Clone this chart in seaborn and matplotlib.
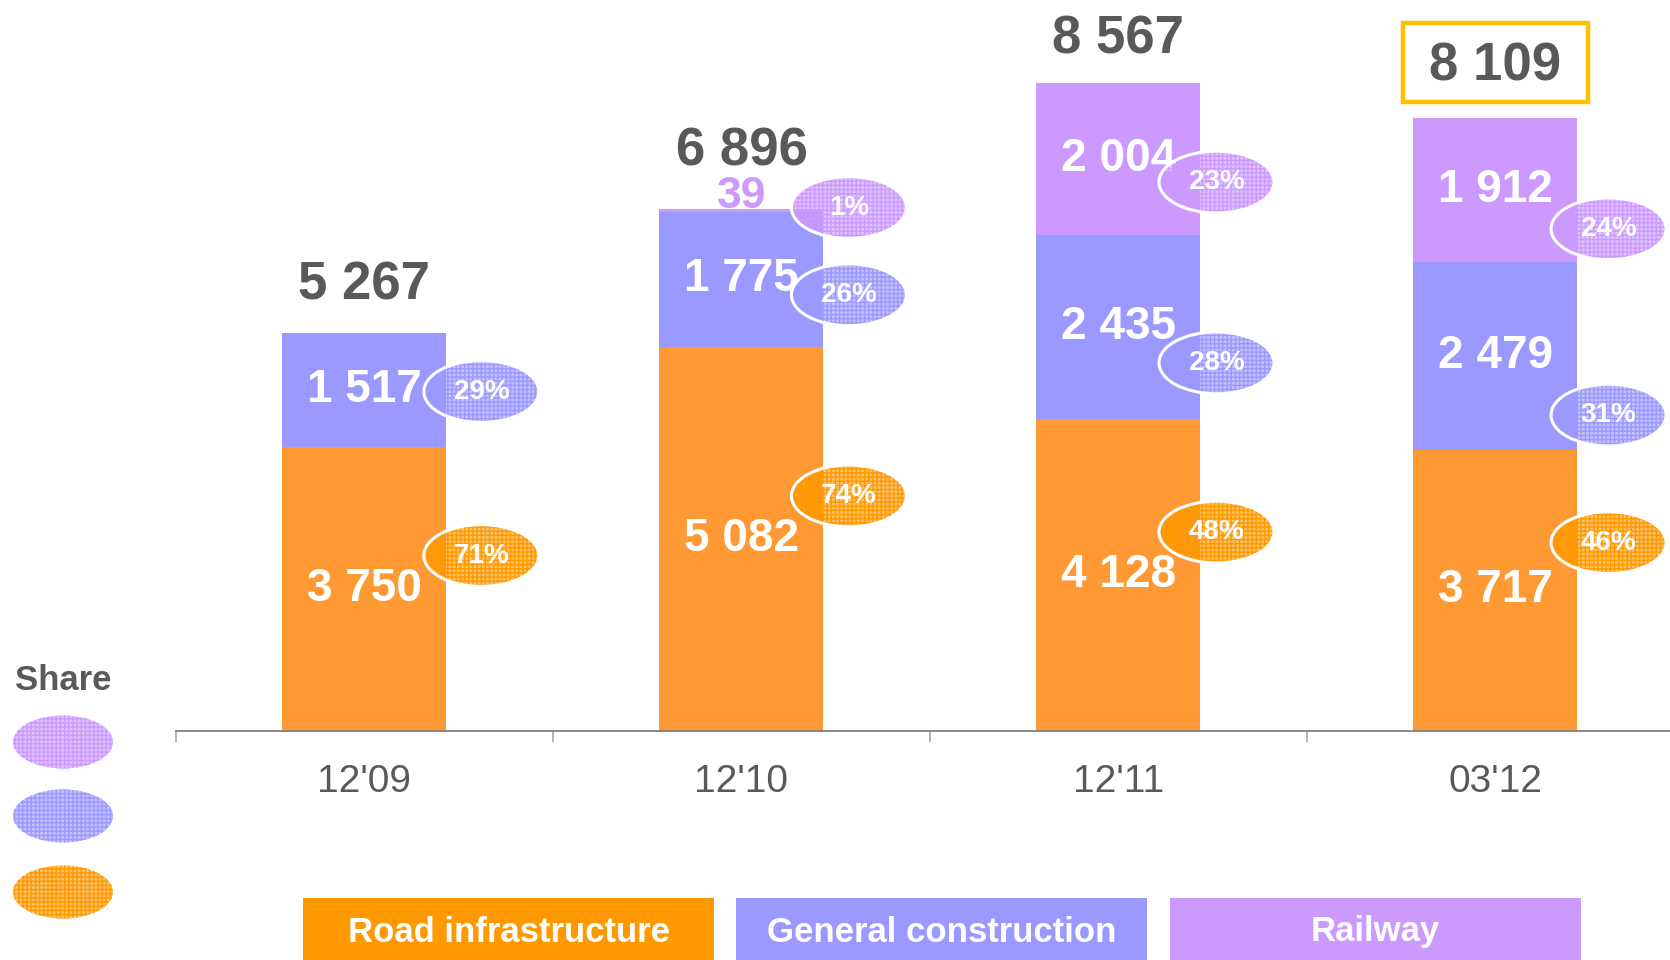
import matplotlib
matplotlib.use("Agg")
import matplotlib.pyplot as plt
from matplotlib.patches import Ellipse, Rectangle
import seaborn as sns
import pandas as pd

# data
periods = ["12'09", "12'10", "12'11", "03'12"]
road = [3750, 5082, 4128, 3717]
general = [1517, 1775, 2435, 2479]
railway = [0, 39, 2004, 1912]
totals = [5267, 6896, 8567, 8109]
share_road = [71, 74, 48, 46]
share_general = [29, 26, 28, 31]
share_railway = [None, 1, 23, 24]
series_names = ["Road infrastructure", "General construction", "Railway"]

ORANGE = "#FF9933"
BLUE = "#9999FF"
PURPLE = "#CC99FF"
ORANGE_BOX = "#FF9900"
GREY = "#595959"

# layout tweaks (badge placement relative to segment middle, label offsets in points)
badge_dx = [0.31, 0.285, 0.26, 0.30]
badge_dy = {
    "road": [445, 567, 566, 631],
    "general": [-21, -203, -479, -780],
    "railway": [None, 44, -308, -513],
}
total_offset = [34, 42, 31, 37]


def fmt(v):
    return f"{v:,}".replace(",", " ")


sns.set_style("white")
plt.rcParams["font.family"] = ["Liberation Sans", "DejaVu Sans"]
plt.rcParams["hatch.linewidth"] = 1.0

df = pd.DataFrame({"period": periods, "road": road, "general": general, "railway": railway})
df["cum_general"] = df["road"] + df["general"]
df["cum_rail"] = df["cum_general"] + df["railway"]

W, H = 1670, 960
fig = plt.figure(figsize=(W / 100, H / 100), dpi=100)
ax = fig.add_axes([176 / W, 1 - 731 / H, 1 - 176 / W, 731 / H])

for col, color in [("cum_rail", PURPLE), ("cum_general", BLUE), ("road", ORANGE)]:
    sns.barplot(data=df, x="period", y=col, order=periods, color=color, width=0.435,
                saturation=1, errorbar=None, linewidth=0, ax=ax)

ax.set_xlim(-0.5, 3.463)
ax.set_ylim(0, 9664)
ax.set_xlabel("")
ax.set_ylabel("")
ax.set_yticks([])
for s in ["top", "right", "left"]:
    ax.spines[s].set_visible(False)
ax.spines["bottom"].set_color("#7F7F7F")
ax.spines["bottom"].set_linewidth(1.3)
ax.set_xticks([-0.5, 0.5, 1.5, 2.5], minor=True)
ax.tick_params(axis="x", which="minor", bottom=True, length=8, color="#A6A6A6", width=1.2)
ax.tick_params(axis="x", which="major", length=0, pad=24, labelsize=28, labelcolor=GREY)


def textured_ellipse(xy, w, h, color, **kw):
    # light tint with a grid of the full colour, like the slide's pattern fill
    return Ellipse(xy, w, h, facecolor=(*matplotlib.colors.to_rgb(color), 0.6),
                   edgecolor=color, hatch="++++", linewidth=0, **kw)


def badge(x, y, color, text):
    ax.add_patch(textured_ellipse((x, y), 0.305, 816, color, zorder=5))
    ax.add_patch(Ellipse((x, y), 0.305, 816, facecolor="none",
                         edgecolor="white", linewidth=2.2, zorder=6))
    ax.text(x, y, text, ha="center", va="center", color="white", fontsize=20,
            fontweight="bold", zorder=7)


for i, p in enumerate(periods):
    segs = [("road", 0, road[i], share_road[i], ORANGE_BOX),
            ("general", road[i], general[i], share_general[i], BLUE),
            ("railway", road[i] + general[i], railway[i], share_railway[i], PURPLE)]
    for key, bottom, h, share, color in segs:
        if h == 0:
            continue
        mid = bottom + h / 2
        if h > 300:
            ax.text(i, mid, fmt(h), ha="center", va="center", color="white",
                    fontsize=33, fontweight="bold", zorder=4)
        else:
            ax.annotate(fmt(h), (i, bottom + h), xytext=(0, 9), textcoords="offset points",
                        ha="center", va="center", color=PURPLE, fontsize=32,
                        fontweight="bold")
        if share is not None:
            badge(i + badge_dx[i], mid + badge_dy[key][i], color, f"{share}%")

    top = road[i] + general[i] + railway[i]
    t = ax.annotate(fmt(totals[i]), (i, top), xytext=(0, total_offset[i]),
                    textcoords="offset points", ha="center", va="center", color=GREY,
                    fontsize=38, fontweight="bold", annotation_clip=False)
    if i == len(periods) - 1:
        # highlight box around the latest total
        fig.canvas.draw()
        bb = t.get_window_extent()
        cx, cy = (bb.x0 + bb.x1) / 2, (bb.y0 + bb.y1) / 2
        bw, bh = 185, 79
        fig.add_artist(Rectangle(((cx - bw / 2) / W, (cy - bh / 2 + 4) / H), bw / W, bh / H,
                                 transform=fig.transFigure, facecolor="none",
                                 edgecolor="#FFC000", linewidth=3.2))

# share legend on the left
fig.text(63 / W, 1 - 680 / H, "Share", ha="center", va="center", color=GREY,
         fontsize=25, fontweight="bold")
for yc, color in [(742, PURPLE), (816, BLUE), (892, ORANGE_BOX)]:
    fig.add_artist(textured_ellipse((63 / W, 1 - yc / H), 100 / W, 53 / H, color,
                                    transform=fig.transFigure))

# series legend at the bottom
for x0, name, color in zip([303, 736, 1170], series_names, [ORANGE_BOX, BLUE, PURPLE]):
    fig.add_artist(Rectangle((x0 / W, 0), 411 / W, 62 / H, transform=fig.transFigure,
                             facecolor=color, edgecolor="none"))
    fig.text((x0 + 205.5) / W, 28 / H, name, ha="center", va="center", color="white",
             fontsize=25, fontweight="bold")

fig.savefig("out.png", dpi=100)
